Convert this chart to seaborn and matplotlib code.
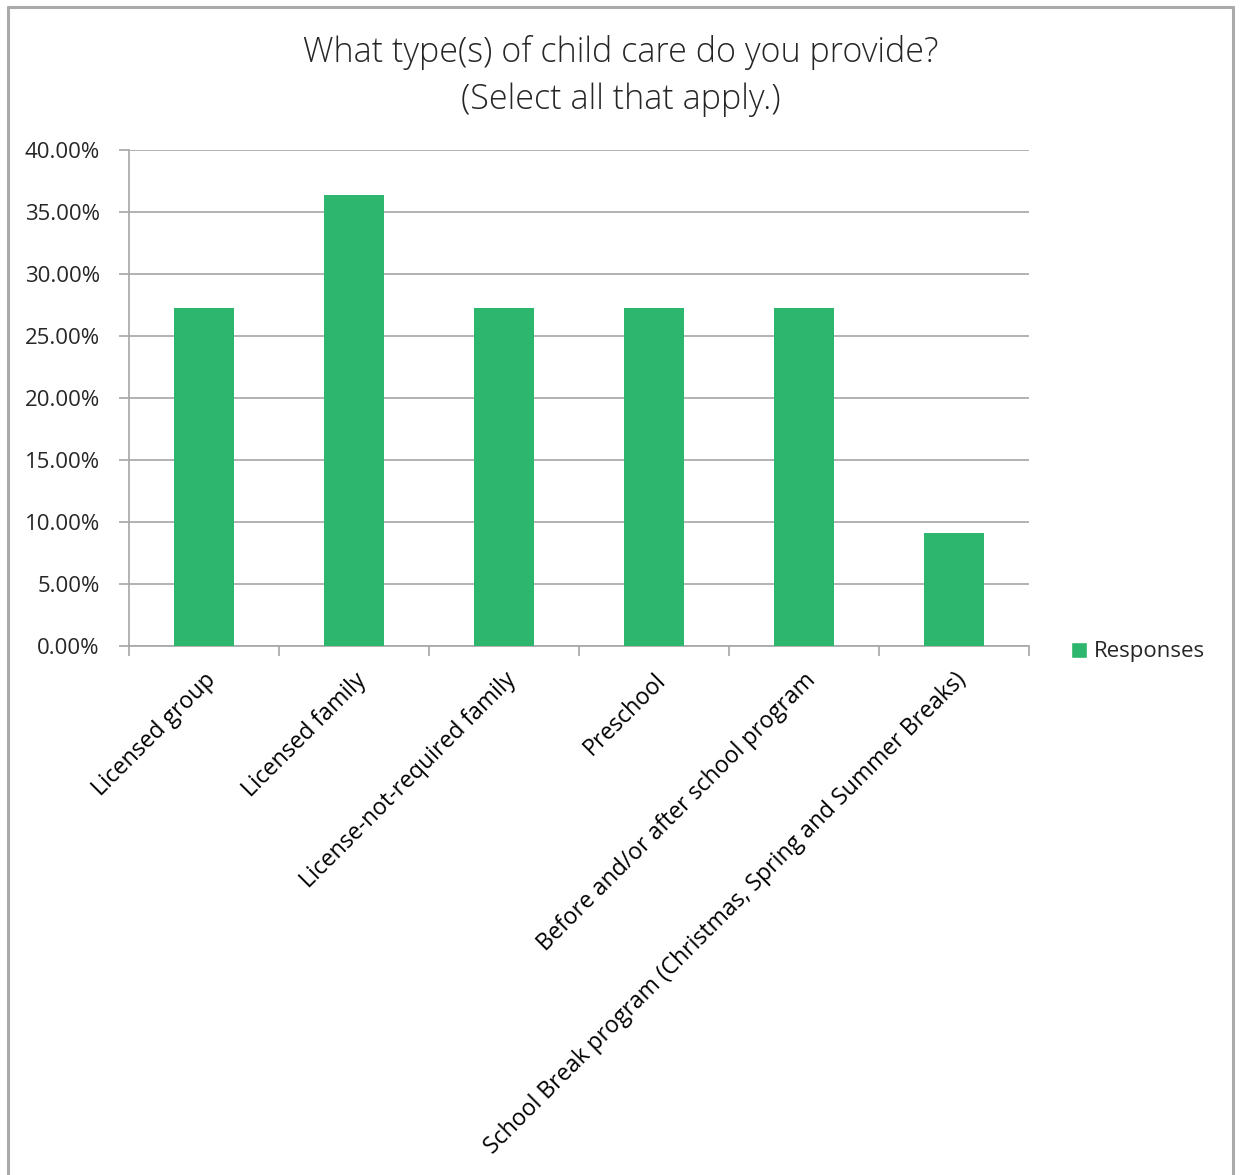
import matplotlib
matplotlib.use("Agg")
import matplotlib.pyplot as plt
from matplotlib.lines import Line2D
from matplotlib.patches import Patch
from matplotlib.ticker import FuncFormatter, FixedLocator
import seaborn as sns
import pandas as pd

categories = [
    "Licensed group",
    "Licensed family",
    "License-not-required family",
    "Preschool",
    "Before and/or after school program",
    "School Break program (Christmas, Spring and Summer Breaks)",
]
responses = [27.27, 36.36, 27.27, 27.27, 27.27, 9.09]
y_ticks = [0, 5, 10, 15, 20, 25, 30, 35, 40]

sns.set_theme(style="white")
plt.rcParams["font.family"] = ["Open Sans", "DejaVu Sans"]

bar_color = "#2db66d"
grid_color = "#a6a6a6"
text_color = "#262626"

fig = plt.figure(figsize=(12.41, 11.75), dpi=100)
ax = fig.add_axes([129 / 1241, 529 / 1175, 900 / 1241, 496 / 1175])

df = pd.DataFrame({"category": categories, "value": responses})
sns.barplot(data=df, x="category", y="value", color=bar_color, width=0.4,
            saturation=1, ax=ax, zorder=3, linewidth=0)

ax.set_ylim(0, 40)
ax.set_xlim(-0.5, len(categories) - 0.5)
ax.yaxis.set_major_locator(FixedLocator(y_ticks))
ax.yaxis.set_major_formatter(FuncFormatter(lambda v, _: f"{v:.2f}%"))
ax.yaxis.grid(True, color=grid_color, linewidth=1.2, zorder=0)
ax.set_axisbelow(True)
ax.set_xlabel("")
ax.set_ylabel("")

for side in ("top", "right"):
    ax.spines[side].set_visible(False)
for side in ("left", "bottom"):
    ax.spines[side].set_color(grid_color)
    ax.spines[side].set_linewidth(1.2)

ax.tick_params(axis="y", length=7, width=1.2, color=grid_color,
               labelsize=16, labelcolor=text_color, pad=14, left=True)
# category labels on major ticks, tick marks on category boundaries
ax.set_xticks(range(len(categories)))
ax.set_xticklabels(categories, rotation=45, ha="right", rotation_mode="anchor",
                   fontsize=16.6, color="black")
ax.tick_params(axis="x", which="major", length=0, pad=16)
ax.set_xticks([i - 0.5 for i in range(len(categories) + 1)], minor=True)
ax.tick_params(axis="x", which="minor", length=7, width=1.2, color=grid_color,
               bottom=True)

fig.text(0.5, 1 - 53 / 1175, "What type(s) of child care do you provide?",
         ha="center", va="center", fontsize=24.6, color=text_color,
         fontweight=300)
fig.text(0.5, 1 - 100 / 1175, "(Select all that apply.)",
         ha="center", va="center", fontsize=24.6, color=text_color,
         fontweight=300)

fig.legend(handles=[Patch(facecolor=bar_color, label="Responses")],
           loc="center left", bbox_to_anchor=(1051 / 1241, 1 - 652 / 1175),
           frameon=False, fontsize=16, handlelength=0.7, handleheight=0.7,
           handletextpad=0.35, labelcolor=text_color)

# outer chart frame
border = dict(color="#aaaaaa", linewidth=2.2, transform=fig.transFigure)
fig.add_artist(Line2D([8 / 1241, 8 / 1241], [-0.01, 1 - 7 / 1175], **border))
fig.add_artist(Line2D([8 / 1241, 1233 / 1241], [1 - 7 / 1175, 1 - 7 / 1175], **border))
fig.add_artist(Line2D([1233 / 1241, 1233 / 1241], [-0.01, 1 - 7 / 1175], **border))

fig.savefig("out.png", dpi=100, facecolor="white")
